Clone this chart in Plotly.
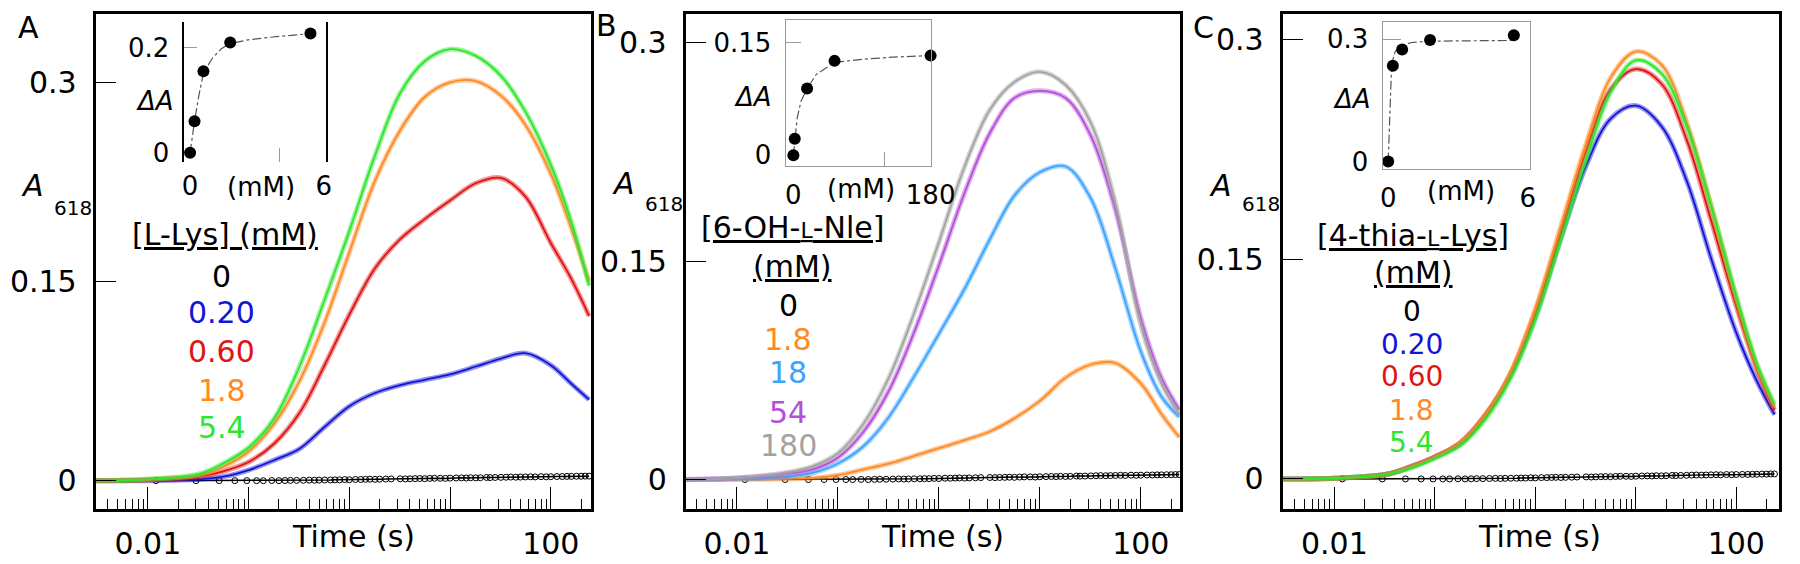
import plotly.graph_objects as go

W, H = 1800, 564
FONT = "DejaVu Sans"

# sampling times (s) of the kinetic traces
t = [0.003, 0.01, 0.032, 0.056, 0.1, 0.18, 0.32, 0.56, 1.0, 1.8, 3.2, 5.6,
     10, 18, 32, 56, 100, 160, 240]

# no-ligand traces (black open circles), same in all three panels
t0 = [0.012, 0.03, 0.051, 0.073, 0.096, 0.12, 0.14, 0.17, 0.2, 0.23, 0.26,
      0.3, 0.35, 0.4, 0.45, 0.5, 0.57, 0.65, 0.72, 0.8, 0.9, 1, 1.15, 1.3,
      1.45, 1.6, 1.8, 2, 2.3, 2.6, 3.2, 3.6, 4, 4.5, 5, 5.6, 6.3, 7, 8, 9, 10,
      11.5, 13, 14.5, 16, 18, 20, 23, 25, 28, 32, 36, 40, 45, 50, 56, 63, 70,
      80, 90, 100, 115, 130, 145, 160, 180, 200, 220, 240]
a0 = [0, 0, 0, 0, 0, 0, 0, 0.0001, 0, 0.0001, 0.0002, 0.0002, 0.0003, 0.0004,
      0.0003, 0.0004, 0.0005, 0.0005, 0.0006, 0.0006, 0.0008, 0.0007, 0.0009,
      0.0009, 0.001, 0.0011, 0.001, 0.0011, 0.0012, 0.0013, 0.0014, 0.0013,
      0.0014, 0.0015, 0.0016, 0.0015, 0.0017, 0.0018, 0.0018, 0.0017, 0.0019,
      0.002, 0.0021, 0.002, 0.0022, 0.0021, 0.0022, 0.0024, 0.0023, 0.0024,
      0.0025, 0.0026, 0.0027, 0.0026, 0.0027, 0.0028, 0.0029, 0.0028, 0.003,
      0.0029, 0.003, 0.0031, 0.0031, 0.0032, 0.0032, 0.0033, 0.0033, 0.0034,
      0.0034]

# panel A : L-Lys
lys_labels = ["0", "0.20", "0.60", "1.8", "5.4"]
lys_020 = [0, 0, 0.001, 0.003, 0.008, 0.0155, 0.024, 0.04, 0.056, 0.066, 0.072,
           0.076, 0.08, 0.086, 0.092, 0.096, 0.087, 0.073, 0.061]
lys_060 = [0, 0.0005, 0.003, 0.007, 0.014, 0.028, 0.051, 0.086, 0.125, 0.16,
           0.182, 0.197, 0.211, 0.224, 0.228, 0.214, 0.179, 0.152, 0.124]
lys_18 = [0, 0.001, 0.004, 0.0105, 0.022, 0.043, 0.075, 0.118, 0.172, 0.226,
          0.264, 0.289, 0.30, 0.301, 0.29, 0.268, 0.231, 0.19, 0.15]
lys_54 = [0, 0.001, 0.005, 0.013, 0.025, 0.047, 0.086, 0.135, 0.188, 0.245,
          0.292, 0.316, 0.325, 0.32, 0.305, 0.278, 0.238, 0.195, 0.147]
lys_conc = [0, 0.2, 0.6, 1.8, 5.4]
lys_dA = [0.0, 0.06, 0.155, 0.21, 0.227]
lys_fit_conc = [0, 0.1, 0.2, 0.4, 0.6, 1.0, 1.4, 1.8, 2.6, 3.6, 4.6, 5.4]
lys_fit_dA = [0, 0.032, 0.06, 0.11, 0.152, 0.18, 0.198, 0.208, 0.215, 0.22,
              0.224, 0.227]

# panel B : 6-OH-L-Nle
nle_labels = ["0", "1.8", "18", "54", "180"]
nle_18 = [0, 0, 0.0005, 0.001, 0.003, 0.007, 0.011, 0.016, 0.0215, 0.027,
          0.033, 0.042, 0.054, 0.070, 0.079, 0.080, 0.066, 0.045, 0.029]
nle_180 = [0, 0.0005, 0.002, 0.0045, 0.011, 0.023, 0.043, 0.070, 0.10, 0.131,
           0.165, 0.195, 0.211, 0.215, 0.193, 0.145, 0.088, 0.057, 0.043]
nle_540 = [0, 0.001, 0.004, 0.007, 0.015, 0.033, 0.061, 0.10, 0.147, 0.197,
           0.238, 0.262, 0.267, 0.262, 0.236, 0.185, 0.111, 0.070, 0.048]
nle_1800 = [0, 0.001, 0.005, 0.009, 0.018, 0.0385, 0.070, 0.113, 0.163, 0.215,
            0.254, 0.273, 0.280, 0.271, 0.245, 0.19, 0.106, 0.066, 0.045]
nle_conc = [0, 1.8, 18, 54, 180]
nle_dA = [0.0, 0.022, 0.089, 0.126, 0.133]
nle_fit_conc = [0, 1.8, 5, 10, 18, 30, 54, 90, 130, 180]
nle_fit_dA = [0, 0.022, 0.05, 0.072, 0.089, 0.108, 0.124, 0.128, 0.131, 0.133]

# panel C : 4-thia-L-Lys
thia_labels = ["0", "0.20", "0.60", "1.8", "5.4"]
thia_020 = [0, 0.0005, 0.003, 0.008, 0.015, 0.024, 0.043, 0.070, 0.111, 0.165,
            0.214, 0.246, 0.255, 0.241, 0.204, 0.151, 0.100, 0.067, 0.044]
thia_060 = [0, 0.0005, 0.003, 0.008, 0.015, 0.025, 0.044, 0.071, 0.114, 0.169,
            0.224, 0.266, 0.280, 0.270, 0.232, 0.177, 0.118, 0.075, 0.047]
thia_18 = [0, 0.0005, 0.003, 0.008, 0.015, 0.025, 0.044, 0.072, 0.116, 0.173,
           0.229, 0.274, 0.292, 0.283, 0.244, 0.187, 0.123, 0.077, 0.049]
thia_54 = [0, 0.0005, 0.003, 0.007, 0.014, 0.023, 0.041, 0.068, 0.109, 0.164,
           0.218, 0.264, 0.286, 0.277, 0.241, 0.187, 0.125, 0.079, 0.051]
thia_conc = [0, 0.2, 0.6, 1.8, 5.4]
thia_dA = [0.0, 0.235, 0.275, 0.298, 0.31]
thia_fit_conc = [0, 0.15, 0.3, 0.6, 1.0, 1.8, 3.0, 5.4]
thia_fit_dA = [0, 0.24, 0.27, 0.285, 0.292, 0.295, 0.296, 0.297]

BLUE, RED, ORANGE, GREEN = "#1414d8", "#e01414", "#ff8a24", "#2ee62e"
SKY, PURPLE, GREY = "#3da3ff", "#b54fda", "#a3a3a3"
TICKGREY = "#9a9a9a"

fig = go.Figure()


def kinetics(series, colors, ax):
    xa, ya = "x" + ax, "y" + ax
    fig.add_trace(go.Scatter(x=t0, y=a0, mode="lines+markers", xaxis=xa, yaxis=ya,
                             line=dict(color="black", width=1.5),
                             marker=dict(symbol="circle-open", size=6, color="black",
                                         line=dict(width=1))))
    for ys, c in zip(series, colors):
        # data band (open circles in the original) and fitted line
        fig.add_trace(go.Scatter(x=t, y=ys, mode="lines", xaxis=xa, yaxis=ya,
                                 line=dict(color=c, width=5, shape="spline"),
                                 opacity=0.45))
        fig.add_trace(go.Scatter(x=t, y=ys, mode="lines", xaxis=xa, yaxis=ya,
                                 line=dict(color=c, width=1.8, shape="spline")))


def inset(conc, dA, fconc, fdA, ax):
    xa, ya = "x" + ax, "y" + ax
    fig.add_trace(go.Scatter(x=fconc, y=fdA, mode="lines", xaxis=xa, yaxis=ya,
                             line=dict(color="#555555", width=1.2, dash="dashdot"),
                             cliponaxis=False))
    fig.add_trace(go.Scatter(x=conc, y=dA, mode="markers", xaxis=xa, yaxis=ya,
                             marker=dict(color="black", size=12), cliponaxis=False))


kinetics([lys_020, lys_060, lys_18, lys_54], [BLUE, RED, ORANGE, GREEN], "")
kinetics([nle_18, nle_180, nle_540, nle_1800], [ORANGE, SKY, PURPLE, GREY], "2")
kinetics([thia_020, thia_060, thia_18, thia_54], [BLUE, RED, ORANGE, GREEN], "3")
inset(lys_conc, lys_dA, lys_fit_conc, lys_fit_dA, "4")
inset(nle_conc, nle_dA, nle_fit_conc, nle_fit_dA, "5")
inset(thia_conc, thia_dA, thia_fit_conc, thia_fit_dA, "6")

minor_vals = [m * 10 ** e for e in range(-3, 3) for m in range(2, 10)]


def main_x(x0, x1, rng, anchor):
    return dict(domain=[x0 / W, x1 / W], type="log", range=rng, anchor=anchor,
                tickvals=[0.01, 0.1, 1, 10, 100],
                ticktext=["0.01", " ", " ", " ", "100"],
                ticks="inside", ticklen=22, tickwidth=1.3, tickcolor="black",
                minor=dict(tickvals=minor_vals, ticks="inside", ticklen=10,
                           tickwidth=1, tickcolor="black"),
                showline=True, linewidth=3, linecolor="black", mirror=True,
                showgrid=False, zeroline=False, ticklabelstandoff=6,
                tickfont=dict(family=FONT, size=30, color="black"))


def main_y(rng, anchor):
    return dict(domain=[1 - 508 / H, 1 - 6 / H], range=rng, anchor=anchor,
                tickvals=[0, 0.15, 0.3], ticktext=["0", "0.15", "0.3"],
                ticks="inside", ticklen=20, tickwidth=1.3, tickcolor="black",
                showline=True, linewidth=3, linecolor="black", mirror=True,
                showgrid=False, zeroline=False, ticklabelstandoff=10,
                tickfont=dict(family=FONT, size=30, color="black"))


def inset_x(x0, x1, rng, anchor, vals, text, line, minor_ticks):
    return dict(domain=[x0 / W, x1 / W], range=rng, anchor=anchor,
                tickvals=vals, ticktext=text, ticks="",
                minor=dict(tickvals=minor_ticks, ticks="inside", ticklen=14,
                           tickcolor=TICKGREY, tickwidth=1.2),
                showline=line, linewidth=1.2, linecolor=TICKGREY, mirror=True,
                showgrid=False, zeroline=False, ticklabelstandoff=6,
                tickfont=dict(family=FONT, size=26, color="black"))


def inset_y(y0, y1, rng, anchor, vals, text, color, width, tick_len):
    return dict(domain=[1 - y1 / H, 1 - y0 / H], range=rng, anchor=anchor,
                tickvals=vals, ticktext=text, ticks="",
                minor=dict(tickvals=vals[1:], ticks="inside", ticklen=tick_len,
                           tickcolor=TICKGREY, tickwidth=1.2),
                showline=True, linewidth=width, linecolor=color, mirror=True,
                showgrid=False, zeroline=False, ticklabelstandoff=8,
                tickfont=dict(family=FONT, size=26, color="black"))


anns = []


def txt(x, y, s, size=30, color="black", anchor="center"):
    anns.append(dict(x=x / W, y=1 - y / H, xref="paper", yref="paper", text=s,
                     showarrow=False, xanchor=anchor, yanchor="middle",
                     font=dict(family=FONT, size=size, color=color)))


small_l = "<span style='font-size:22px'>L</span>"

# panel A texts
txt(18, 20, "A")
txt(8, 180, "<i>A</i>", anchor="left")
txt(42, 203, "618", size=20, anchor="left")
txt(348, 536, "Time (s)")
txt(217, 230, "<u>[L-Lys] (mM)</u>")
for lab, c, y in zip(lys_labels, ["black", BLUE, RED, ORANGE, GREEN],
                     [272, 309, 348, 388, 426]):
    txt(214, y, lab, color=c)
txt(146, 94, "<i>ΔA</i>", size=26)
txt(254, 182, "(mM)", size=26)

# panel B texts
txt(605, 18, "B")
txt(608, 178, "<i>A</i>", anchor="left")
txt(642, 199, "618", size=20, anchor="left")
txt(946, 536, "Time (s)")
txt(793, 223, "<u>[6-OH-" + small_l + "-Nle]</u>")
txt(793, 262, "<u>(mM)</u>")
for lab, c, y in zip(nle_labels, ["black", ORANGE, SKY, PURPLE, GREY],
                     [302, 336, 370, 410, 444]):
    txt(789, y, lab, color=c)
txt(753, 90, "<i>ΔA</i>", size=26)
txt(863, 184, "(mM)", size=26)

# panel C texts
txt(1211, 20, "C")
txt(1214, 180, "<i>A</i>", anchor="left")
txt(1248, 199, "618", size=20, anchor="left")
txt(1552, 536, "Time (s)")
txt(1423, 231, "<u>[4-thia-" + small_l + "-Lys]</u>")
txt(1424, 268, "<u>(mM)</u>")
for lab, c, y in zip(thia_labels, ["black", BLUE, RED, ORANGE, GREEN],
                     [308, 341, 374, 408, 441]):
    txt(1422, y, lab, size=28, color=c)
txt(1361, 92, "<i>ΔA</i>", size=26)
txt(1472, 186, "(mM)", size=26)

fig.update_layout(
    width=W, height=H, margin=dict(l=0, r=0, t=0, b=0),
    paper_bgcolor="white", plot_bgcolor="white", showlegend=False,
    font=dict(family=FONT, color="black"),
    xaxis=main_x(86, 589, [-2.518, 2.401], "y"),
    yaxis=main_y([-0.0212, 0.3516], "x"),
    xaxis2=main_x(685, 1187, [-2.507, 2.39], "y2"),
    yaxis2=main_y([-0.0201, 0.3198], "x2"),
    xaxis3=main_x(1291, 1795, [-2.515, 2.426], "y3"),
    yaxis3=main_y([-0.0204, 0.3177], "x3"),
    xaxis4=inset_x(176, 320, [-0.256, 6.106], "y4", [0, 6], ["0", "6"], False, [4]),
    yaxis4=inset_y(13.7, 156, [-0.0173, 0.25], "x4", [0, 0.2], ["0", "0.2"],
                   "black", 1.5, 13),
    xaxis5=inset_x(786.4, 934, [-10.2, 180.5], "y5", [0, 180], ["0", "180"], True,
                   [120]),
    yaxis5=inset_y(12.6, 160, [-0.014, 0.18], "x5", [0, 0.15], ["0", "0.15"],
                   TICKGREY, 1.2, 15),
    xaxis6=inset_x(1392.5, 1542.5, [-0.24, 6.11], "y6", [0, 6], ["0", "6"], True, []),
    yaxis6=inset_y(13.7, 163, [-0.0174, 0.3435], "x6", [0, 0.3], ["0", "0.3"],
                   TICKGREY, 1.2, 18),
    annotations=anns,
)

fig.write_html("out.html")
